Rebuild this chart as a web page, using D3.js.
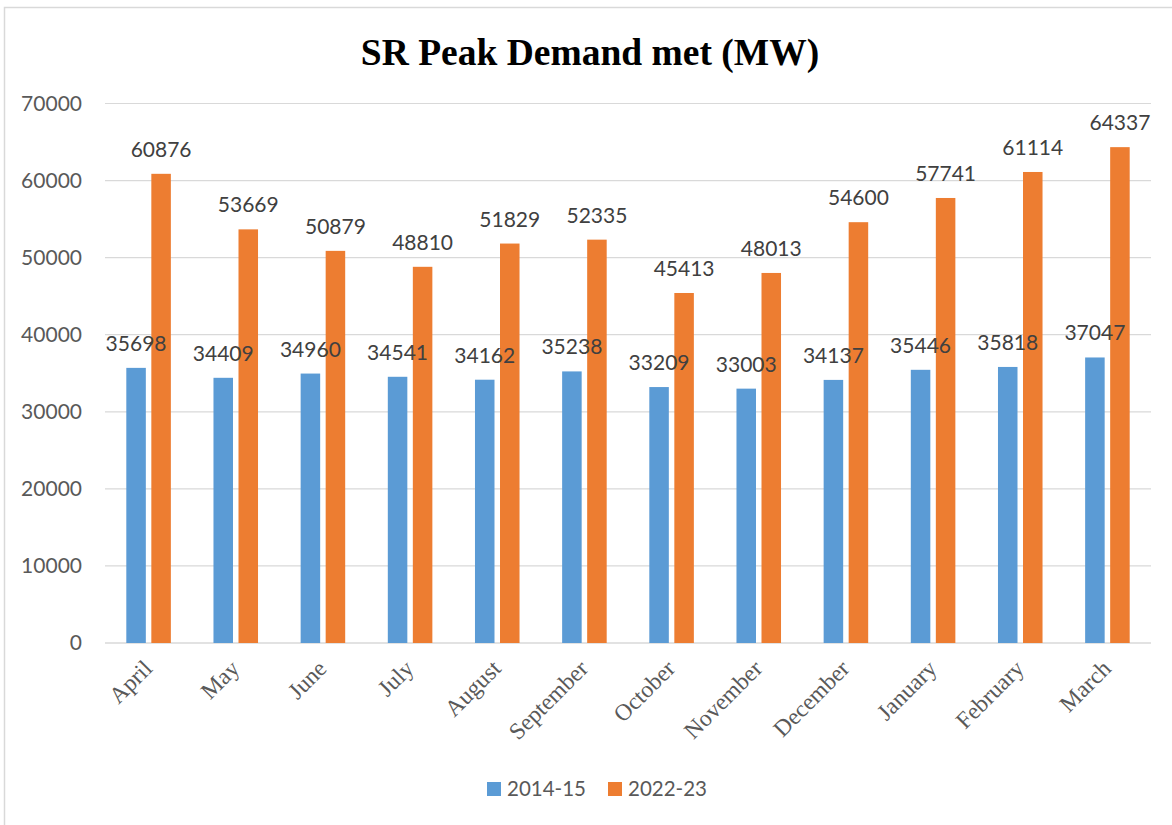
<!DOCTYPE html>
<html>
<head>
<meta charset="utf-8">
<script src="https://cdn.jsdelivr.net/npm/d3@7"></script>
<style>
  html, body { margin: 0; padding: 0; background: #fff; }
  svg { display: block; }
</style>
</head>
<body>
<svg id="chart" width="1172" height="825"></svg>
<script>
// Monthly peak demand met in the Southern Region (MW)
const months = ["April", "May", "June", "July", "August", "September",
                "October", "November", "December", "January", "February", "March"];
const fy2014 = [35698, 34409, 34960, 34541, 34162, 35238, 33209, 33003, 34137, 35446, 35818, 37047];
const fy2022 = [60876, 53669, 50879, 48810, 51829, 52335, 45413, 48013, 54600, 57741, 61114, 64337];
const seriesNames = ["2014-15", "2022-23"];
const seriesColors = ["#5B9BD5", "#ED7D31"];
const yTicks = [0, 10000, 20000, 30000, 40000, 50000, 60000, 70000];

const W = 1172, H = 825;
const plot = { left: 105, right: 1151, top: 103.5, bottom: 643 };
const sansFont = "Lato, 'Open Sans', sans-serif";
const serifFont = "'Liberation Serif', 'Times New Roman', serif";
const svg = d3.select("#chart");

// outer frame
svg.append("rect")
  .attr("x", 4.5).attr("y", 7.5)
  .attr("width", W + 20).attr("height", H + 20)
  .attr("fill", "#fff").attr("stroke", "#d9d9d9").attr("stroke-width", 1.5);

const x = d3.scaleBand().domain(months).range([plot.left, plot.right]).paddingInner(0).paddingOuter(0);
const y = d3.scaleLinear().domain([0, 70000]).range([plot.bottom, plot.top]);

// gridlines
svg.append("g").selectAll("line").data(yTicks).join("line")
  .attr("x1", plot.left).attr("x2", plot.right)
  .attr("y1", d => y(d)).attr("y2", d => y(d))
  .attr("stroke", "#d9d9d9").attr("stroke-width", d => d === 0 ? 1.5 : 1.2);

// y axis labels
const yAxis = d3.axisLeft(y).tickValues(yTicks).tickSize(0).tickPadding(0).tickFormat(d3.format("d"));
const gy = svg.append("g").attr("transform", `translate(${plot.left - 23},0)`).call(yAxis);
gy.select(".domain").remove();
gy.selectAll("text")
  .attr("fill", "#595959")
  .style("font-family", sansFont)
  .style("font-size", "21px");

// bars
const barW = x.bandwidth() * 0.224;
const gap = 5.5;
const series = [fy2014, fy2022];
const offsets = [-(gap / 2 + barW), gap / 2];

series.forEach((vals, si) => {
  svg.append("g").selectAll("rect").data(months).join("rect")
    .attr("x", d => x(d) + x.bandwidth() / 2 + offsets[si])
    .attr("y", (d, i) => y(vals[i]))
    .attr("width", barW)
    .attr("height", (d, i) => y(0) - y(vals[i]))
    .attr("fill", seriesColors[si]);
});

// value labels above each bar, drawn over all bars
series.forEach((vals, si) => {
  svg.append("g").selectAll("text").data(months).join("text")
    .attr("x", d => x(d) + x.bandwidth() / 2 + offsets[si] + barW / 2)
    .attr("y", (d, i) => y(vals[i]) - 17)
    .attr("text-anchor", "middle")
    .attr("fill", "#404040")
    .style("font-family", sansFont)
    .style("font-size", "21px")
    .text((d, i) => vals[i]);
});

// x axis labels, rotated
svg.append("g").selectAll("text").data(months).join("text")
  .attr("transform", d => `translate(${x(d) + x.bandwidth() / 2 + 5},${plot.bottom + 27}) rotate(-45)`)
  .attr("text-anchor", "end")
  .attr("fill", "#595959")
  .style("font-family", serifFont)
  .style("font-size", "23.5px")
  .text(d => d);

// title
svg.append("text")
  .attr("x", 590).attr("y", 65)
  .attr("text-anchor", "middle")
  .attr("fill", "#000")
  .style("font-family", serifFont)
  .style("font-weight", "bold")
  .style("font-size", "37.5px")
  .text("SR Peak Demand met (MW)");

// legend
const legendItems = [{ name: seriesNames[0], x: 487 }, { name: seriesNames[1], x: 608 }];
const lg = svg.append("g");
legendItems.forEach((item, i) => {
  lg.append("rect").attr("x", item.x).attr("y", 782).attr("width", 14).attr("height", 14)
    .attr("fill", seriesColors[i]);
  lg.append("text").attr("x", item.x + 20).attr("y", 795.5)
    .attr("fill", "#595959")
    .style("font-family", sansFont)
    .style("font-size", "20.5px")
    .text(item.name);
});
</script>
</body>
</html>
